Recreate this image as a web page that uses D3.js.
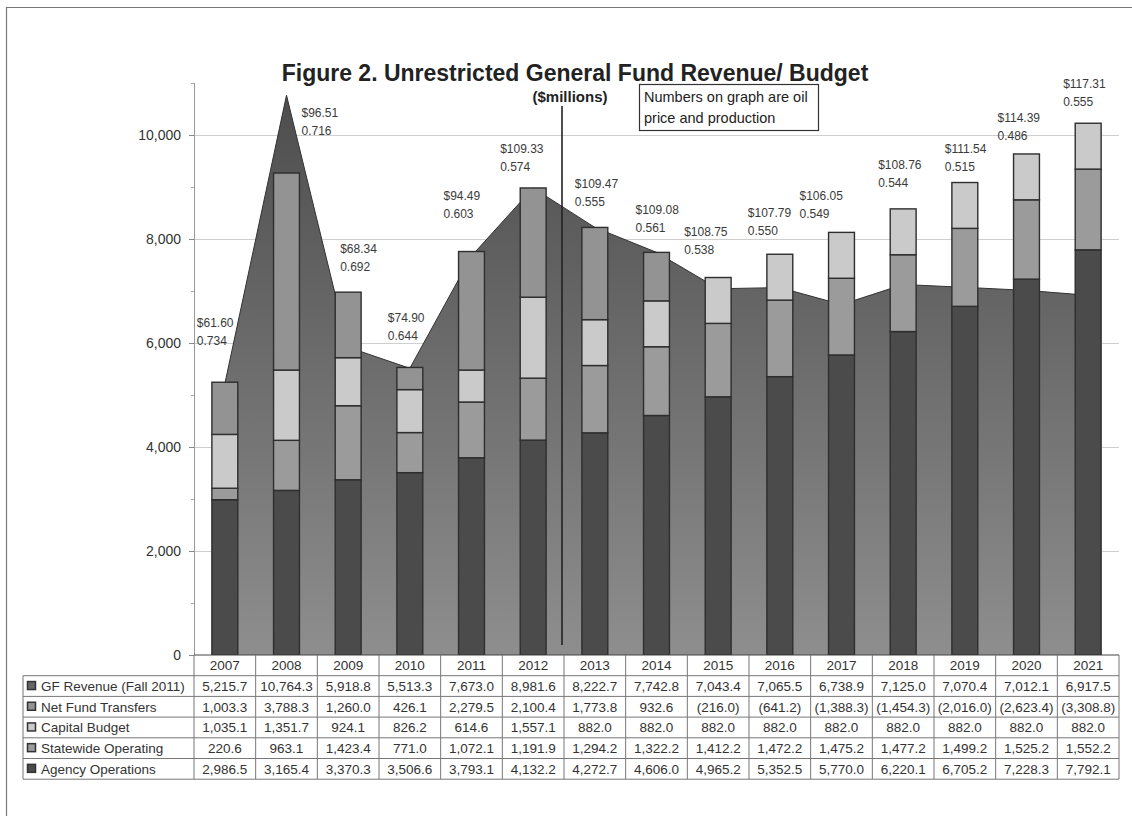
<!DOCTYPE html>
<html>
<head>
<meta charset="utf-8">
<script src="https://cdn.jsdelivr.net/npm/d3@7/dist/d3.min.js"></script>
<style>
  html, body { margin: 0; padding: 0; background: #fff; }
  svg { display: block; font-family: "Liberation Sans", Arial, sans-serif; }
</style>
</head>
<body>
<svg id="chart" width="1132" height="825"></svg>
<script>
// Fiscal years shown on the category axis
const years = ["2007","2008","2009","2010","2011","2012","2013","2014","2015","2016","2017","2018","2019","2020","2021"];

// Unrestricted general fund revenue (area), $ millions
const gfRevenue = [5215.7, 10764.3, 5918.8, 5513.3, 7673.0, 8981.6, 8222.7, 7742.8, 7043.4, 7065.5, 6738.9, 7125.0, 7070.4, 7012.1, 6917.5];

// Budget components (stacked columns), $ millions
const agencyOps = [2986.5, 3165.4, 3370.3, 3506.6, 3793.1, 4132.2, 4272.7, 4606.0, 4965.2, 5352.5, 5770.0, 6220.1, 6705.2, 7228.3, 7792.1];
const statewideOps = [220.6, 963.1, 1423.4, 771.0, 1072.1, 1191.9, 1294.2, 1322.2, 1412.2, 1472.2, 1475.2, 1477.2, 1499.2, 1525.2, 1552.2];
const capitalBudget = [1035.1, 1351.7, 924.1, 826.2, 614.6, 1557.1, 882.0, 882.0, 882.0, 882.0, 882.0, 882.0, 882.0, 882.0, 882.0];
const netTransfers = [1003.3, 3788.3, 1260.0, 426.1, 2279.5, 2100.4, 1773.8, 932.6, -216.0, -641.2, -1388.3, -1454.3, -2016.0, -2623.4, -3308.8];

// Oil price ($/bbl) and production (million bbl/day) annotations
const oilPrice = ["$61.60","$96.51","$68.34","$74.90","$94.49","$109.33","$109.47","$109.08","$108.75","$107.79","$106.05","$108.76","$111.54","$114.39","$117.31"];
const oilProduction = ["0.734","0.716","0.692","0.644","0.603","0.574","0.555","0.561","0.538","0.550","0.549","0.544","0.515","0.486","0.555"];

const yTicks = [0, 2000, 4000, 6000, 8000, 10000];

// Label placement relative to each revenue point (pixels)
const labelOffsets = [[-28,-61],[15,18],[-8,-98],[-22,-51],[-28,-60],[-33,-39],[-20,-44],[-21,-43],[-34,-57],[-32,-75],[-42,-109],[-25,-120],[-20,-139],[-29,-173],[-25,-211]];

const svg = d3.select("#chart");
const W = 1132, H = 825;
const plot = { left: 194, right: 1119, top: 83, bottom: 655 };

const x = d3.scaleBand().domain(years).range([plot.left, plot.right]).padding(0);
const cx = d => x(d) + x.bandwidth() / 2;
const barW = x.bandwidth() * 0.42;
const y = d3.scaleLinear().domain([0, 11000]).range([plot.bottom, plot.top]);

// page frame
svg.append("line").attr("x1", 6.5).attr("x2", 6.5).attr("y1", 7).attr("y2", 816).attr("stroke", "#777").attr("stroke-width", 1.2);
svg.append("line").attr("x1", 6).attr("x2", W).attr("y1", 7.5).attr("y2", 7.5).attr("stroke", "#777").attr("stroke-width", 1.2);

const defs = svg.append("defs");
defs.append("clipPath").attr("id", "plotClip").append("rect")
  .attr("x", plot.left).attr("y", plot.top - 20).attr("width", plot.right - plot.left).attr("height", plot.bottom - plot.top + 20);
const grad = defs.append("linearGradient").attr("id", "areaGrad")
  .attr("gradientUnits", "userSpaceOnUse").attr("x1", 0).attr("x2", 0).attr("y1", y(11000)).attr("y2", y(0));
grad.append("stop").attr("offset", "0%").attr("stop-color", "#4c4c4c");
grad.append("stop").attr("offset", "100%").attr("stop-color", "#8e8e8e");

// gridlines
svg.append("g").selectAll("line").data(yTicks.filter(t => t > 0)).join("line")
  .attr("x1", plot.left).attr("x2", plot.right)
  .attr("y1", d => y(d) + 0.5).attr("y2", d => y(d) + 0.5)
  .attr("stroke", "#cfcfcf").attr("stroke-width", 1);

// revenue area
const area = d3.area()
  .x((d, i) => cx(years[i]))
  .y0(y(0))
  .y1(d => y(d));
svg.append("path").datum(gfRevenue).attr("d", area)
  .attr("fill", "url(#areaGrad)").attr("stroke", "none");
svg.append("path").datum(gfRevenue)
  .attr("d", d3.line().x((d, i) => cx(years[i])).y(d => y(d)))
  .attr("fill", "none").attr("stroke", "#333").attr("stroke-width", 1);

// stacked budget columns
const keys = ["agency", "statewide", "capital", "net"];
const colors = { agency: "#4b4b4b", statewide: "#9b9b9b", capital: "#cacaca", net: "#939393" };
const rows = years.map((yr, i) => ({
  year: yr, agency: agencyOps[i], statewide: statewideOps[i], capital: capitalBudget[i], net: netTransfers[i]
}));
const stack = d3.stack().keys(keys).offset(d3.stackOffsetDiverging)(rows);
const barsG = svg.append("g").attr("clip-path", "url(#plotClip)");
stack.forEach(layer => {
  barsG.append("g").selectAll("rect").data(layer).join("rect")
    .attr("x", d => cx(d.data.year) - barW / 2)
    .attr("width", barW)
    .attr("y", d => y(Math.max(d[0], d[1])))
    .attr("height", d => Math.abs(y(d[0]) - y(d[1])))
    .attr("fill", colors[layer.key])
    .attr("stroke", "#2e2e2e").attr("stroke-width", 1.4);
});

// separator between actual and projected years
const sepX = x("2013") - 2;
svg.append("line").attr("x1", sepX).attr("x2", sepX).attr("y1", 106).attr("y2", 645)
  .attr("stroke", "#222").attr("stroke-width", 1.6);

// titles
svg.append("text").attr("x", 575).attr("y", 81).attr("text-anchor", "middle")
  .attr("font-size", 23).attr("font-weight", "bold").attr("fill", "#222")
  .text("Figure 2. Unrestricted General Fund Revenue/ Budget");
svg.append("text").attr("x", 570).attr("y", 102).attr("text-anchor", "middle")
  .attr("font-size", 15).attr("font-weight", "bold").attr("fill", "#222")
  .text("($millions)");

// y axis
const yAxis = svg.append("g");
yAxis.append("line").attr("x1", plot.left + 0.5).attr("x2", plot.left + 0.5)
  .attr("y1", plot.top).attr("y2", plot.bottom).attr("stroke", "#999");
yAxis.selectAll(".major").data(yTicks).join("line")
  .attr("x1", plot.left - 5).attr("x2", plot.left)
  .attr("y1", d => y(d) + 0.5).attr("y2", d => y(d) + 0.5).attr("stroke", "#888");
yAxis.selectAll(".minor").data(d3.range(1000, 11001, 2000)).join("line")
  .attr("x1", plot.left - 3).attr("x2", plot.left)
  .attr("y1", d => y(d) + 0.5).attr("y2", d => y(d) + 0.5).attr("stroke", "#aaa");
yAxis.selectAll("text").data(yTicks).join("text")
  .attr("x", plot.left - 13).attr("y", d => y(d)).attr("dy", "0.35em")
  .attr("text-anchor", "end").attr("font-size", 14).attr("fill", "#333")
  .text(d => d3.format(",")(d));

// oil price / production labels
const lab = svg.append("g").attr("font-size", 12).attr("fill", "#3a3a3a");
years.forEach((yr, i) => {
  const px = cx(yr) + labelOffsets[i][0];
  const py = y(gfRevenue[i]) + labelOffsets[i][1];
  lab.append("text").attr("x", px).attr("y", py).attr("dy", "0.35em").text(oilPrice[i]);
  lab.append("text").attr("x", px).attr("y", py + 18).attr("dy", "0.35em").text(oilProduction[i]);
});

// note box
const note = svg.append("g");
note.append("rect").attr("x", 639.5).attr("y", 84.5).attr("width", 179).attr("height", 46)
  .attr("fill", "#fff").attr("stroke", "#333").attr("stroke-width", 1.2);
note.append("text").attr("x", 644).attr("y", 102).attr("font-size", 14.5).attr("fill", "#222").text("Numbers on graph are oil");
note.append("text").attr("x", 644).attr("y", 123).attr("font-size", 14.5).attr("fill", "#222").text("price and production");

// data table
const rowH = 20.7;
const tableTop = plot.bottom;
const labelLeft = 23;
const fmt = v => {
  const s = d3.format(",.1f")(Math.abs(v));
  return v < 0 ? "(" + s + ")" : s;
};
const tableRows = [
  { name: "GF Revenue (Fall 2011)", vals: gfRevenue, fill: "#666" },
  { name: "Net Fund Transfers", vals: netTransfers, fill: colors.net },
  { name: "Capital Budget", vals: capitalBudget, fill: colors.capital },
  { name: "Statewide Operating", vals: statewideOps, fill: colors.statewide },
  { name: "Agency Operations", vals: agencyOps, fill: colors.agency }
];
const tbl = svg.append("g").attr("font-size", 13.5).attr("fill", "#333");
const lineCol = "#777";
// header row with years
years.forEach(yr => {
  tbl.append("text").attr("x", cx(yr)).attr("y", tableTop + rowH / 2).attr("dy", "0.36em")
    .attr("text-anchor", "middle").text(yr);
});
// horizontal rules
d3.range(0, 7).forEach(r => {
  const yy = tableTop + r * rowH;
  tbl.append("line").attr("x1", r === 0 ? plot.left : labelLeft).attr("x2", plot.right)
    .attr("y1", yy).attr("y2", yy).attr("stroke", r === 0 ? "#444" : lineCol).attr("stroke-width", r === 0 ? 1.2 : 1);
});
// vertical rules
years.forEach(yr => {
  tbl.append("line").attr("x1", x(yr)).attr("x2", x(yr)).attr("y1", tableTop).attr("y2", tableTop + 6 * rowH)
    .attr("stroke", lineCol);
});
tbl.append("line").attr("x1", plot.right).attr("x2", plot.right).attr("y1", tableTop).attr("y2", tableTop + 6 * rowH).attr("stroke", lineCol);
tbl.append("line").attr("x1", labelLeft).attr("x2", labelLeft).attr("y1", tableTop + rowH).attr("y2", tableTop + 6 * rowH).attr("stroke", lineCol);
// body rows
tableRows.forEach((row, r) => {
  const yc = tableTop + (r + 1.5) * rowH;
  tbl.append("rect").attr("x", labelLeft + 4.5).attr("y", yc - 4.5).attr("width", 8).attr("height", 8)
    .attr("fill", row.fill).attr("stroke", "#333").attr("stroke-width", 1.5);
  tbl.append("text").attr("x", labelLeft + 18).attr("y", yc).attr("dy", "0.36em").text(row.name);
  row.vals.forEach((v, i) => {
    tbl.append("text").attr("x", cx(years[i])).attr("y", yc).attr("dy", "0.36em")
      .attr("text-anchor", "middle").text(fmt(v));
  });
});
</script>
</body>
</html>
